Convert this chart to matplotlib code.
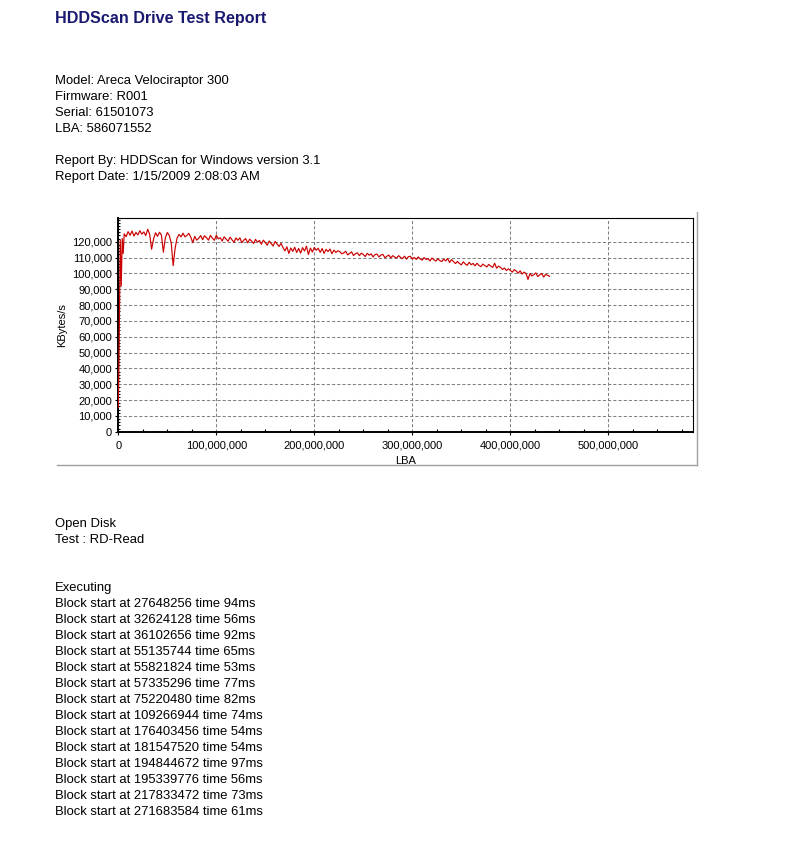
import matplotlib
matplotlib.use('Agg')
import matplotlib.pyplot as plt
import numpy as np
from matplotlib.ticker import FuncFormatter, MultipleLocator
from matplotlib.lines import Line2D

# ---------------- data ----------------
title = "HDDScan Drive Test Report"
drive_info = ["Model: Areca Velociraptor 300", "Firmware: R001",
              "Serial: 61501073", "LBA: 586071552"]
report_info = ["Report By: HDDScan for Windows version 3.1",
               "Report Date: 1/15/2009 2:08:03 AM"]
test_info = ["Open Disk", "Test : RD-Read"]
block_starts = [27648256, 32624128, 36102656, 55135744, 55821824, 57335296,
                75220480, 109266944, 176403456, 181547520, 194844672,
                195339776, 217833472, 271683584]
block_times_ms = [94, 56, 92, 65, 53, 77, 82, 74, 54, 54, 97, 56, 73, 61]

total_lba = 586071552

# first samples (LBA in millions, speed in thousands of KBytes/s)
start_lba_m = [0.0, 0.7, 2.0, 3.0, 4.0, 5.0]
start_kbps_k = [15.4, 46.5, 121.0, 92.0, 122.0, 112.6]

# main samples every 2M LBA starting at 6M (speed in thousands of KBytes/s)
main_first_lba_m = 6
main_step_lba_m = 2
main_kbps_k = [
    125.0, 123.2, 126.4, 124.1, 126.8, 123.6, 125.9, 124.3, 127.0, 124.8,
    126.2, 123.9, 127.9, 124.6, 115.3, 121.8, 125.7, 123.4, 126.0, 124.2,
    113.4, 122.5, 125.8, 124.0, 119.2, 104.9, 116.0, 122.4, 124.6, 123.1,
    125.4, 123.1, 124.0, 125.3, 122.8, 119.4, 123.4, 121.0, 122.2, 123.9,
    121.3, 123.8, 122.5, 121.0, 124.0, 122.3, 120.9, 124.1, 121.8, 122.6,
    120.4, 123.1, 121.7, 120.3, 122.9, 121.2, 119.6, 122.4, 120.9, 122.5,
    119.4, 121.0, 122.0, 119.3, 121.6, 120.4, 118.9, 121.5, 119.7, 120.8,
    118.4, 121.0, 119.5, 117.8, 120.5, 118.9, 117.3, 120.2, 118.6, 117.0,
    119.0, 116.4, 114.2, 116.8, 112.6, 116.1, 113.9, 116.5, 113.2, 115.8,
    112.8, 116.3, 114.1, 117.2, 111.9, 116.0, 113.5, 116.4, 114.6, 115.9,
    113.3, 115.7, 112.6, 115.2, 113.8, 115.4, 112.4, 114.7, 113.2, 114.3,
    113.8, 112.4, 112.9, 114.0, 111.7, 112.6, 113.6, 111.3, 112.4, 113.0,
    111.2, 112.8, 111.9, 110.7, 112.7, 111.5, 112.3, 110.4, 111.9, 112.2,
    110.4, 111.6, 112.0, 109.9, 110.8, 111.6, 109.8, 111.2, 110.3, 109.7,
    111.2, 110.1, 109.4, 110.9, 109.0, 110.6, 110.8, 109.1, 110.1, 108.8,
    110.4, 109.2, 108.4, 110.0, 108.8, 109.3, 107.9, 109.7, 108.6, 107.8,
    109.2, 108.1, 107.5, 109.0, 107.9, 109.4, 106.9, 108.7, 107.4, 106.2,
    107.6, 106.3, 105.4, 107.3, 106.0, 105.1, 107.0, 105.5, 106.3, 104.8,
    106.4, 105.0, 104.3, 105.9, 104.9, 104.1, 105.7, 104.6, 103.8, 106.4,
    103.3, 104.6, 103.8, 102.5, 103.4, 101.8, 102.9, 101.9, 100.8, 102.4,
    101.5, 100.2, 101.6, 99.6, 100.8, 100.0, 96.2, 99.9, 98.4, 99.2,
    100.3, 98.0, 99.1, 100.0, 97.7, 99.4, 98.8, 98.2,
]

x_ticks = [0, 100_000_000, 200_000_000, 300_000_000, 400_000_000, 500_000_000]
y_ticks = [0, 10000, 20000, 30000, 40000, 50000, 60000, 70000, 80000,
           90000, 100000, 110000, 120000]

# ---------------- figure ----------------
W, H = 795, 856
plt.rcParams['font.family'] = ['Liberation Sans', 'DejaVu Sans']
fig = plt.figure(figsize=(W / 100, H / 100), dpi=100)


def fx(px):
    return px / W


def fy(py):
    return 1 - py / H


body_fs = 9.4
fig.text(fx(55), fy(23), title, fontsize=11.6, fontweight='bold',
         color='#191970', va='baseline', ha='left')
for i, s in enumerate(drive_info):
    fig.text(fx(55), fy(84 + 16 * i), s, fontsize=body_fs, va='baseline')
for i, s in enumerate(report_info):
    fig.text(fx(55), fy(164 + 16 * i), s, fontsize=body_fs, va='baseline')
for i, s in enumerate(test_info):
    fig.text(fx(55), fy(527 + 16 * i), s, fontsize=body_fs, va='baseline')
fig.text(fx(55), fy(591), "Executing", fontsize=body_fs, va='baseline')
for i, (b, t) in enumerate(zip(block_starts, block_times_ms)):
    fig.text(fx(55), fy(607 + 16 * i), f"Block start at {b} time {t}ms",
             fontsize=body_fs, va='baseline')

# chart
ax_l, ax_r, ax_t, ax_b = 118.3, 692.7, 218.0, 431.7
ax = fig.add_axes([fx(ax_l), fy(ax_b), (ax_r - ax_l) / W, (ax_b - ax_t) / H])

main_lba_m = main_first_lba_m + main_step_lba_m * np.arange(len(main_kbps_k))
lba = np.concatenate([np.array(start_lba_m), main_lba_m]) * 1e6
kbps = np.concatenate([np.array(start_kbps_k), np.array(main_kbps_k)]) * 1000

ax.plot(lba, kbps, color='#cc0000', lw=0.85, zorder=3)

ax.set_xlim(0, total_lba)
ax.set_ylim(0, 135000)
ax.set_xticks(x_ticks)
ax.set_yticks(y_ticks)
ax.xaxis.set_minor_locator(MultipleLocator(25_000_000))
ax.yaxis.set_minor_locator(MultipleLocator(2000))
fmt = FuncFormatter(lambda v, p: f"{int(round(v)):,}")
ax.xaxis.set_major_formatter(fmt)
ax.yaxis.set_major_formatter(fmt)

ax.tick_params(axis='x', which='major', direction='out', length=2.5,
               width=0.8, labelsize=8, pad=4)
ax.tick_params(axis='x', which='minor', direction='in', length=2.5, width=0.8)
ax.tick_params(axis='y', which='major', direction='out', length=2.5,
               width=0.8, labelsize=8, pad=2)
ax.tick_params(axis='y', which='minor', direction='in', length=1.5, width=0.8)

ax.set_axisbelow(True)
ax.grid(True, which='major', color='#808080', linestyle=(0, (3, 2)),
        linewidth=0.75)
for side in ['top', 'right']:
    ax.spines[side].set_linewidth(0.8)
for side in ['left', 'bottom']:
    ax.spines[side].set_linewidth(1.4)

ax.set_xlabel("LBA", fontsize=8, va='top')
ax.xaxis.set_label_coords(0.5, -(456 - ax_b) / (ax_b - ax_t))
ax.set_ylabel("KBytes/s", fontsize=8)
ax.yaxis.set_label_coords(-(ax_l - 67) / (ax_r - ax_l), 0.5)

# chart control border (right and bottom)
fig.add_artist(Line2D([fx(57), fx(697)], [fy(465), fy(465)],
                      color='#a0a0a0', lw=1, transform=fig.transFigure))
fig.add_artist(Line2D([fx(697), fx(697)], [fy(212), fy(465)],
                      color='#a0a0a0', lw=1, transform=fig.transFigure))

fig.savefig('out.png', dpi=100)
